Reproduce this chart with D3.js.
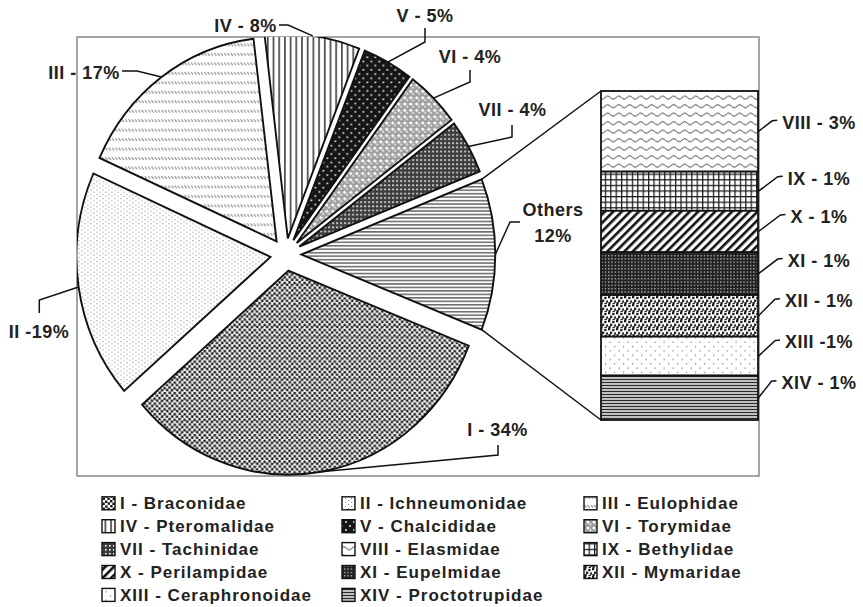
<!DOCTYPE html>
<html><head><meta charset="utf-8">
<script src="https://cdn.jsdelivr.net/npm/d3@7"></script>
<style>
body{margin:0;background:#fff}
svg{display:block}
text{font-family:"Liberation Sans",Arial,Helvetica,sans-serif;font-weight:bold;fill:#222}
</style>
</head><body>
<svg id="c" width="863" height="607"></svg>
<script>
// ---------- data ----------
const pieCategories = ["I","II","III","IV","V","VI","VII","Others"];
const pieValues = [32.6, 18.1, 16.4, 7.9, 4.2, 4.5, 4.3, 12.0];
const pieLabels = ["I - 34%","II -19%","III - 17%","IV - 8%","V - 5%","VI - 4%","VII - 4%","Others|12%"];
const barCategories = ["VIII","IX","X","XI","XII","XIII","XIV"];
const barValues = [2.94, 1.43, 1.51, 1.56, 1.52, 1.42, 1.62];
const barLabels = ["VIII - 3%","IX - 1%","X - 1%","XI - 1%","XII - 1%","XIII -1%","XIV - 1%"];
const legendCategories = ["I","II","III","IV","V","VI","VII","VIII","IX","X","XI","XII","XIII","XIV"];
const legendLabels = ["I - Braconidae","II - Ichneumonidae","III - Eulophidae","IV - Pteromalidae","V - Chalcididae","VI - Torymidae","VII - Tachinidae","VIII - Elasmidae","IX - Bethylidae","X - Perilampidae","XI - Eupelmidae","XII - Mymaridae","XIII - Ceraphronoidae","XIV - Proctotrupidae"];

// ---------- layout ----------
const plot = {x:77, y:37, w:682, h:439};
const C = {x:285.8, y:254.5}, R = 194, explode = 15.5, k = 1.052;
const bar = {x0:601, x1:758, y0:91, y1:420};
const pieLabelLayout = [
  {tx:497.5, ty:430,  el:[[498,455],[498,445]]},
  {tx:39,    ty:331.7,el:[[39.3,300],[39.3,313]]},
  {tx:84,    ty:73,   el:[[137,71],[122,71]]},
  {tx:245.5, ty:26,   el:[[288,25],[279,25]]},
  {tx:425,   ty:15.7, el:[[425,42],[425,28]]},
  {tx:470,   ty:56.7, el:[[470,82],[470,70]]},
  {tx:512.5, ty:110,  el:[[512,137],[512,125]]},
  {tx:553,   ty:210,  el:[[510,222],[520,222]]}
];
const barLabelX = 819;
const barLabelDy = [-9,-13,-15,-13,-15,-14,-15];

const svg = d3.select("#c");
const defs = svg.append("defs");

// ---------- patterns ----------
function pat(id, w, h, bg, draw, tf){
  const p = defs.append("pattern").attr("id", id).attr("patternUnits","userSpaceOnUse")
    .attr("width", w).attr("height", h);
  if (tf) p.attr("patternTransform", tf);
  p.append("rect").attr("width", w).attr("height", h).attr("fill", bg);
  draw(p);
}
const sq = (p, pts, s, c) => pts.forEach(([x,y]) => p.append("rect").attr("x",x).attr("y",y).attr("width",s).attr("height",s).attr("fill",c));
const dots = (p, pts, r, c) => pts.forEach(([x,y]) => p.append("circle").attr("cx",x).attr("cy",y).attr("r",r).attr("fill",c));

pat("p-I", 10, 10, "#fff", p => sq(p, [[0,0],[5,0.6],[2.4,2.6],[7.6,2.4],[0.2,5],[5.2,5.4],[2.6,7.6],[7.4,7.8]], 2.4, "#151515"));
pat("p-II", 6, 4, "#fff", p => sq(p, [[0,0],[3,2]], 1, "#8a8a8a"));
pat("p-III", 3.3, 9, "#fff", p => p.append("line").attr("x1",0.3).attr("y1",1).attr("x2",2.4).attr("y2",3.6).attr("stroke","#7a7a7a").attr("stroke-width",1));
pat("p-IV", 5.7, 10, "#fff", p => p.append("line").attr("x1",2.8).attr("y1",0).attr("x2",2.8).attr("y2",10).attr("stroke","#111").attr("stroke-width",1.3));
pat("p-V", 8, 8, "#161616", p => dots(p, [[2,2],[6,6]], 0.9, "#fff"));
pat("p-VI", 6, 6, "#fff", p => {
  p.append("circle").attr("cx",3).attr("cy",3).attr("r",2.6).attr("fill","#a4a4a4").attr("stroke","#5a5a5a").attr("stroke-width",0.5);
  p.append("circle").attr("cx",2.3).attr("cy",2.3).attr("r",1).attr("fill","#f0f0f0");
});
pat("p-VII", 4, 4, "#3c3c3c", p => sq(p, [[1,1]], 1.6, "#fff"));
pat("p-Others", 10, 3.3, "#fff", p => p.append("line").attr("x1",0).attr("y1",1.6).attr("x2",10).attr("y2",1.6).attr("stroke","#222").attr("stroke-width",1));
pat("p-VIII", 11, 8.5, "#fff", p => p.append("path").attr("d","M0,4.2 Q2.75,1.2 5.5,4.2 T11,4.2").attr("fill","none").attr("stroke","#222").attr("stroke-width",0.9));
pat("p-IX", 5.4, 5.6, "#fff", p => {
  p.append("line").attr("x1",0.6).attr("y1",0).attr("x2",0.6).attr("y2",5.6).attr("stroke","#1a1a1a").attr("stroke-width",1.3);
  p.append("line").attr("x1",0).attr("y1",0.6).attr("x2",5.4).attr("y2",0.6).attr("stroke","#1a1a1a").attr("stroke-width",1.3);
});
pat("p-X", 6, 6, "#fff", p => p.append("rect").attr("x",0).attr("y",0).attr("width",2.6).attr("height",6).attr("fill","#111"), "rotate(45)");
pat("p-XI", 3.3, 3.3, "#222", p => sq(p, [[1,1]], 1.1, "#fff"));
pat("p-XII", 8, 8, "#fff", p => sq(p, [[0,0],[4.2,0.8],[2,3.6],[6.2,4.4],[0.4,6],[4.6,6.8]], 2.3, "#1a1a1a"));
pat("p-XIII", 9, 8.6, "#fff", p => sq(p, [[2,2],[6.5,6.3]], 1.2, "#777"));
pat("p-XIV", 10, 3, "#c8c8c8", p => p.append("line").attr("x1",0).attr("y1",1.5).attr("x2",10).attr("y2",1.5).attr("stroke","#2a2a2a").attr("stroke-width",1.1));

// ---------- plot area box ----------
svg.append("rect").attr("x",plot.x).attr("y",plot.y).attr("width",plot.w).attr("height",plot.h)
  .attr("fill","none").attr("stroke","#888").attr("stroke-width",1.5);

defs.append("clipPath").attr("id","plotClip").append("rect")
  .attr("x",plot.x).attr("y",plot.y).attr("width",plot.w).attr("height",plot.h);

// ---------- pie ----------
const total = d3.sum(pieValues);
const othersShare = pieValues[pieValues.length-1] / total;
const start = Math.PI/2 + othersShare*Math.PI;
const pie = d3.pie().sort(null).value(d => d).startAngle(start).endAngle(start + 2*Math.PI);
const arcs = pie(pieValues);
const arcGen = d3.arc().innerRadius(0).outerRadius(R);
const mid = a => (a.startAngle + a.endAngle)/2;
const offset = a => [explode*Math.sin(mid(a)), -explode*Math.cos(mid(a))];
const toPage = ([x,y]) => [C.x + x, C.y + y*k];
const arcPoint = (a, ang) => { const o = offset(a); return toPage([o[0] + R*Math.sin(ang), o[1] - R*Math.cos(ang)]); };

const pieOuter = svg.append("g").attr("clip-path","url(#plotClip)");
const pieG = pieOuter.append("g").attr("transform",`translate(${C.x},${C.y}) scale(1,${k})`);
pieG.selectAll("path").data(arcs).join("path")
  .attr("transform", a => `translate(${offset(a)[0]},${offset(a)[1]})`)
  .attr("d", arcGen)
  .attr("fill", (a,i) => `url(#p-${pieCategories[i]})`)
  .attr("stroke","#111").attr("stroke-width",1.9).attr("stroke-linejoin","miter")
  .attr("vector-effect","non-scaling-stroke");

// pie leader lines and labels
const line = d3.line();
arcs.forEach((a,i) => {
  const L = pieLabelLayout[i];
  const p0 = arcPoint(a, mid(a));
  svg.append("path").attr("d", line([p0, ...L.el])).attr("fill","none").attr("stroke","#111").attr("stroke-width",1.5);
  const parts = pieLabels[i].split("|");
  const t = svg.append("text").attr("x",L.tx).attr("y",L.ty).attr("text-anchor","middle")
    .attr("font-size",18).attr("letter-spacing",0.5);
  parts.forEach((s,j) => t.append("tspan").attr("x",L.tx).attr("dy", j===0 ? "0.35em" : "1.4em").text(s));
});

// ---------- bar of pie ----------
const barTotal = d3.sum(barValues);
const yBar = d3.scaleLinear().domain([0, barTotal]).range([bar.y0, bar.y1]);
const cum = d3.cumsum(barValues);
const segs = barValues.map((v,i) => ({cat: barCategories[i], y0: i ? cum[i-1] : 0, y1: cum[i]}));

// connector lines
const oth = arcs[arcs.length-1];
const cU = arcPoint(oth, oth.startAngle), cL = arcPoint(oth, oth.endAngle);
svg.append("line").attr("x1",cU[0]).attr("y1",cU[1]).attr("x2",bar.x0).attr("y2",yBar(0)).attr("stroke","#111").attr("stroke-width",1.5);
svg.append("line").attr("x1",cL[0]).attr("y1",cL[1]).attr("x2",bar.x0).attr("y2",yBar(barTotal)).attr("stroke","#111").attr("stroke-width",1.5);

svg.append("g").selectAll("rect").data(segs).join("rect")
  .attr("x",bar.x0).attr("width",bar.x1-bar.x0)
  .attr("y", d => yBar(d.y0)).attr("height", d => yBar(d.y1)-yBar(d.y0))
  .attr("fill", d => `url(#p-${d.cat})`).attr("stroke","#111").attr("stroke-width",1.8);

segs.forEach((d,i) => {
  const ym = (yBar(d.y0)+yBar(d.y1))/2;
  const ly = ym + barLabelDy[i];
  const t = svg.append("text").attr("x",barLabelX).attr("y",ly).attr("dy","0.35em")
    .attr("text-anchor","middle").attr("font-size",18).attr("letter-spacing",0.5).text(barLabels[i]);
  const w = t.node().getComputedTextLength();
  const left = barLabelX - w/2;
  svg.append("path").attr("d", line([[bar.x1+0.5, ym],[left-10, ly-1.5],[left-5, ly-2]]))
    .attr("fill","none").attr("stroke","#111").attr("stroke-width",1.5);
});

// ---------- legend ----------
const legCols = [102, 342, 584], legRow0 = 503.3, legStep = 22.9, sw = 13;
const leg = svg.append("g");
legendLabels.forEach((s,i) => {
  const cx = legCols[i % 3], cy = legRow0 + Math.floor(i/3)*legStep;
  leg.append("rect").attr("x",cx).attr("y",cy-sw/2).attr("width",sw).attr("height",sw)
    .attr("fill",`url(#p-${legendCategories[i]})`).attr("stroke","#111").attr("stroke-width",1.4);
  leg.append("text").attr("x",cx+18).attr("y",cy).attr("dy","0.36em")
    .attr("font-size",17).attr("letter-spacing",1).text(s);
});
</script>
</body></html>
